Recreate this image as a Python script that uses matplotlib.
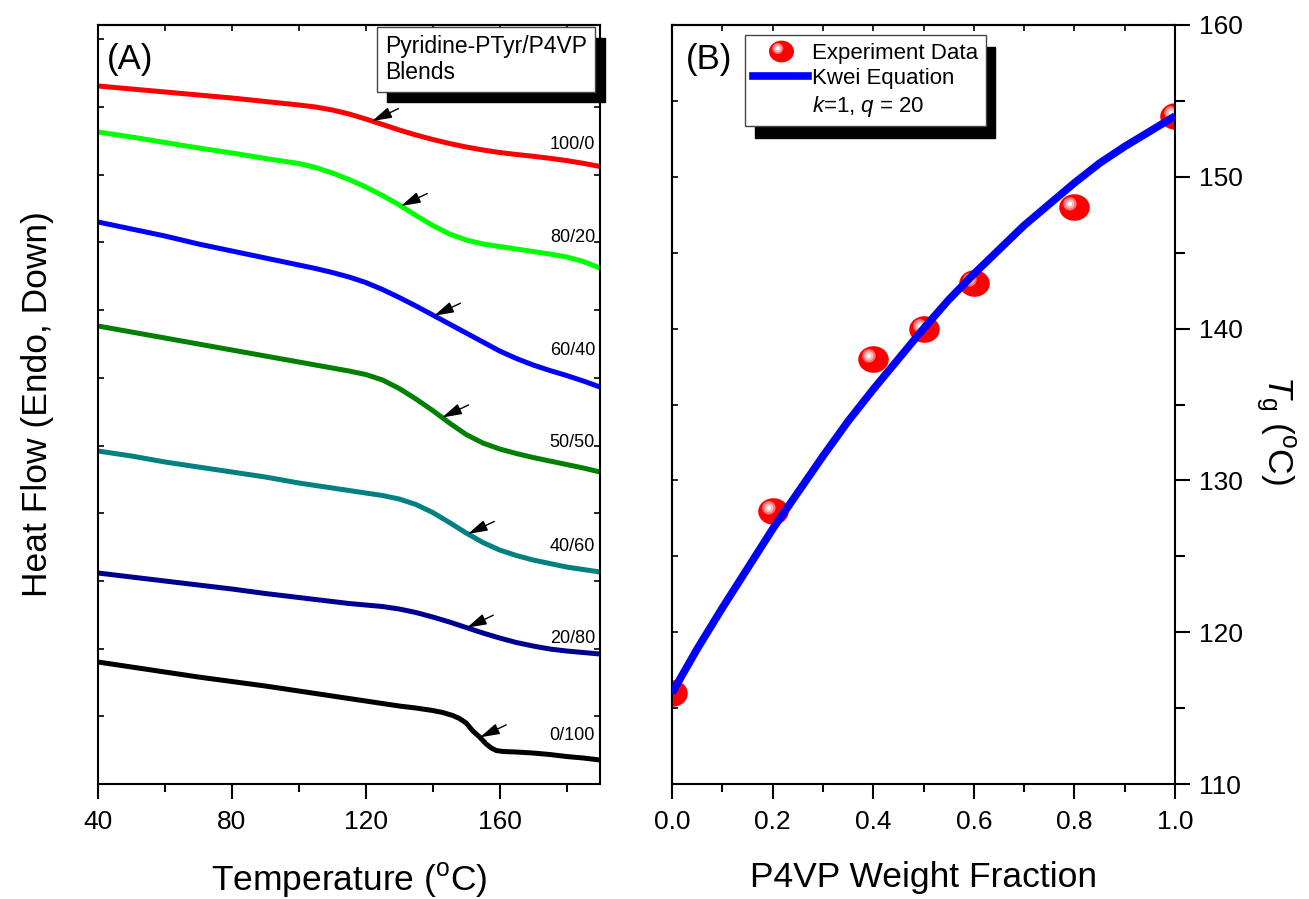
import numpy as np
import matplotlib
matplotlib.use('Agg')
import matplotlib.pyplot as plt
from matplotlib.lines import Line2D
from matplotlib.path import Path
from matplotlib.ticker import MultipleLocator, FormatStrFormatter

plt.rcParams['font.family'] = ['Liberation Sans', 'DejaVu Sans']
plt.rcParams['mathtext.fontset'] = 'custom'
plt.rcParams['mathtext.rm'] = 'Liberation Sans'
plt.rcParams['mathtext.it'] = 'Liberation Sans:italic'

# ---- panel A: DSC traces (heat flow in arbitrary units) ----
temp = [40, 50, 60, 70, 80, 90, 100, 105, 110, 115, 120, 125, 130, 135, 140,
        145, 150, 155, 160, 165, 170, 175, 180, 185, 190]
hf_100_0 = [698, 695, 692, 689, 686, 682.5, 679, 677, 674, 670, 665, 659.5, 654, 649, 644.5,
            640.5, 637, 634, 631.5, 629.5, 627.7, 625.7, 623.4, 620.7, 617.5]
hf_80_20 = [652, 647, 641.5, 636, 631, 625.5, 620.5, 616.5, 611, 604.5, 597, 588.5, 579, 568.5, 558.5,
            550, 544, 540, 537.5, 535, 532.5, 530, 527, 522.5, 516]
hf_60_40 = [562, 555, 548, 540, 533, 526, 519, 515.5, 511.5, 507, 501.5, 494.5, 486.5, 478, 469,
            460, 451, 442, 433, 425.5, 419, 413.5, 408.5, 403, 397]
hf_50_50 = [458, 452, 446, 440, 434, 428, 422, 419, 416, 413, 409.5, 404, 395.5, 385, 373.5,
            361, 349.5, 341, 335, 330.5, 326.5, 323, 319.5, 316, 312]
hf_40_60 = [333, 328, 322, 317, 312, 307, 301, 298.5, 296, 293.5, 291, 288.5, 285, 279.5, 271.5,
            261.5, 251, 241.5, 234, 228.5, 224, 220.5, 217, 214.5, 212]
hf_20_80 = [211, 207, 203, 199, 195, 190.5, 186.5, 184.5, 182.5, 180.5, 179, 177.5, 175, 171.5, 167,
            162, 156.5, 151, 146, 141.5, 138, 135, 133, 131.5, 130]
# the 0/100 trace has a sharp step, so it is read on its own finer grid
temp_0_100 = [40, 50, 60, 70, 80, 90, 100, 110, 120, 130, 135, 140, 143, 146, 148, 150, 152,
              154, 156, 157.5, 159, 161, 165, 170, 175, 180, 185, 190]
hf_0_100 = [122, 117, 112, 107, 102.5, 98, 93, 88, 83, 78, 76, 73.5, 71.5, 68.5, 65.5, 61, 53,
            47, 40, 36, 33.5, 32.5, 32, 31, 29.5, 27.5, 26, 24]

blend_names = ['100/0', '80/20', '60/40', '50/50', '40/60', '20/80', '0/100']
blend_temps = [temp, temp, temp, temp, temp, temp, temp_0_100]
blend_curves = [hf_100_0, hf_80_20, hf_60_40, hf_50_50, hf_40_60, hf_20_80, hf_0_100]
blend_colors = ['#ff0000', '#00ff00', '#0000ff', '#008000', '#008080', '#000090', '#000000']
tg_arrow = [121.9, 130.5, 140.4, 142.8, 150.5, 150.2, 154.1]   # arrow tips (deg C)
name_y = [639, 546, 434, 342, 238, 146, 49]                     # label heights

# ---- panel B: Tg vs composition ----
w_p4vp = [0.0, 0.2, 0.4, 0.5, 0.6, 0.8, 1.0]
tg_exp = [116, 128, 138, 140, 143, 148, 154]
w_fit = [0.0, 0.05, 0.1, 0.15, 0.2, 0.25, 0.3, 0.35, 0.4, 0.45, 0.5,
         0.55, 0.6, 0.65, 0.7, 0.75, 0.8, 0.85, 0.9, 0.95, 1.0]
tg_fit = [116, 118.9, 121.6, 124.2, 126.8, 129.2, 131.6, 133.9, 136.0, 138.0, 140.0,
          141.9, 143.6, 145.2, 146.8, 148.2, 149.6, 150.9, 152.0, 153.0, 154.0]


def spot(cx, cy, r, sy=1.0):
    c = Path.circle((cx, cy), r)
    v = c.vertices.copy()
    v[:, 1] = cy + (v[:, 1] - cy) * sy
    verts = np.vstack([v, [[0.5, 0.5], [0.5, 0.5]]])
    codes = np.concatenate([c.codes, [Path.MOVETO, Path.LINETO]])
    return Path(verts, codes)


ball_layers = [(spot(0, 0, 0.5, 0.87), '#ff0000'),
               (spot(-0.15, 0.12, 0.22), '#ff7070'),
               (spot(-0.15, 0.12, 0.15), '#ffb8b8'),
               (spot(-0.15, 0.12, 0.07), '#ffffff')]

fig = plt.figure(figsize=(13.09, 8.99), dpi=100)
axA = fig.add_axes([0.0749, 0.1279, 0.3835, 0.8443])
axB = fig.add_axes([0.5134, 0.1279, 0.3843, 0.8443])

for name, tt, hf, col, tg, ly in zip(blend_names, blend_temps, blend_curves,
                                     blend_colors, tg_arrow, name_y):
    axA.plot(tt, hf, color=col, lw=3.6, solid_capstyle='butt', solid_joinstyle='round')
    yt = np.interp(tg, tt, hf)
    axA.annotate('', xy=(tg, yt), xytext=(19, 9), textcoords='offset points',
                 arrowprops=dict(arrowstyle='-|>,head_length=0.6,head_width=0.17',
                                 color='k', lw=1, shrinkA=0, shrinkB=0,
                                 mutation_scale=20))
    axA.text(0.99, ly, name, transform=axA.get_yaxis_transform(),
             ha='right', va='center', fontsize=13)

axA.set_xlim(40, 190)
axA.set_ylim(0, 759)
axA.set_xticks([40, 80, 120, 160])
axA.xaxis.set_minor_locator(MultipleLocator(20))
axA.yaxis.set_major_locator(MultipleLocator(67.7))
axA.tick_params(axis='x', which='major', direction='out', length=11, width=1.5,
                labelsize=19, pad=8, top=False)
axA.tick_params(axis='x', which='minor', direction='out', length=6, width=1.5, top=False)
axA.tick_params(axis='y', which='major', direction='in', length=4, width=1.2,
                left=True, right=True, labelleft=False)
topA = axA.secondary_xaxis('top')
topA.set_xticks(np.arange(40, 191, 20))
topA.tick_params(direction='in', length=4, width=1.2, labeltop=False)
topA.spines['top'].set_linewidth(1.5)
for s in axA.spines.values():
    s.set_linewidth(1.5)
axA.set_xlabel('Temperature ($^{\\rm o}$C)', fontsize=25.5, labelpad=19)
axA.set_ylabel('Heat Flow (Endo, Down)', fontsize=25.5, labelpad=32)
axA.text(0.018, 0.954, '(A)', transform=axA.transAxes, fontsize=25, va='center')

legA = axA.legend(handles=[Line2D([], [], ls='none')], labels=['Pyridine-PTyr/P4VP\nBlends'],
                  loc='upper right', bbox_to_anchor=(0.990, 0.997), borderaxespad=0,
                  handlelength=0, handletextpad=0, fontsize=16.5, fancybox=False,
                  edgecolor='#444444', framealpha=1, borderpad=0.35,
                  shadow={'ox': 7, 'oy': -7.5, 'facecolor': 'k', 'edgecolor': 'k', 'alpha': 1})
legA.get_frame().set_linewidth(1)
for t in legA.get_texts():
    t.set_linespacing(1.15)

# panel B
for path, col in ball_layers:
    axB.plot(w_p4vp, tg_exp, ls='none', marker=path, ms=22, mfc=col, mew=0, zorder=2)
axB.plot(w_fit, tg_fit, color='#0000ff', lw=5.5, zorder=3, solid_capstyle='butt',
         solid_joinstyle='round')

axB.set_xlim(0, 1)
axB.set_ylim(110, 160)
axB.set_xticks(np.arange(0, 1.01, 0.2))
axB.xaxis.set_minor_locator(MultipleLocator(0.1))
axB.xaxis.set_major_formatter(FormatStrFormatter('%.1f'))
axB.yaxis.tick_right()
axB.yaxis.set_major_locator(MultipleLocator(10))
axB.yaxis.set_minor_locator(MultipleLocator(5))
axB.tick_params(axis='x', which='major', direction='out', length=11, width=1.5,
                labelsize=19, pad=8, top=False)
axB.tick_params(axis='x', which='minor', direction='out', length=6, width=1.5, top=False)
axB.tick_params(axis='y', which='major', direction='out', length=11, width=1.5,
                labelsize=19, pad=6, left=False)
axB.tick_params(axis='y', which='minor', direction='out', length=7, width=1.5, left=False)
topB = axB.secondary_xaxis('top')
topB.set_xticks(np.arange(0, 1.01, 0.1))
topB.tick_params(direction='in', length=4, width=1.2, labeltop=False)
topB.spines['top'].set_linewidth(1.5)
leftB = axB.secondary_yaxis('left')
leftB.set_yticks(np.arange(110, 161, 5))
leftB.tick_params(direction='in', length=4, width=1.2, labelleft=False)
leftB.spines['left'].set_linewidth(1.5)
for s in axB.spines.values():
    s.set_linewidth(1.5)
axB.set_xlabel('P4VP Weight Fraction', fontsize=25.5, labelpad=19)
axB.yaxis.set_label_position('right')
axB.set_ylabel('$T_{\\rm g}$ ($^{\\rm o}$C)', fontsize=25.5, rotation=270,
               ha='center', va='center')
axB.yaxis.set_label_coords(1.199, 0.466)
axB.text(0.028, 0.954, '(B)', transform=axB.transAxes, fontsize=25, va='center')

ball_proxy = tuple(Line2D([], [], ls='none', marker=p, ms=18, mfc=c, mew=0)
                   for p, c in ball_layers)
line_proxy = Line2D([], [], color='#0000ff', lw=5.5)
legB = axB.legend(handles=[ball_proxy, line_proxy, Line2D([], [], ls='none')],
                  labels=['Experiment Data', 'Kwei Equation', '$k$=1, $q$ = 20'],
                  loc='upper left', bbox_to_anchor=(0.145, 0.987), borderaxespad=0,
                  fontsize=16, handlelength=2.5, handletextpad=0.15, labelspacing=0.2,
                  borderpad=0.35, fancybox=False, edgecolor='#444444', framealpha=1,
                  shadow={'ox': 7, 'oy': -8.5, 'facecolor': 'k', 'edgecolor': 'k', 'alpha': 1})
legB.get_frame().set_linewidth(1)
legB.set_zorder(5)

fig.savefig('out.png', dpi=100)
